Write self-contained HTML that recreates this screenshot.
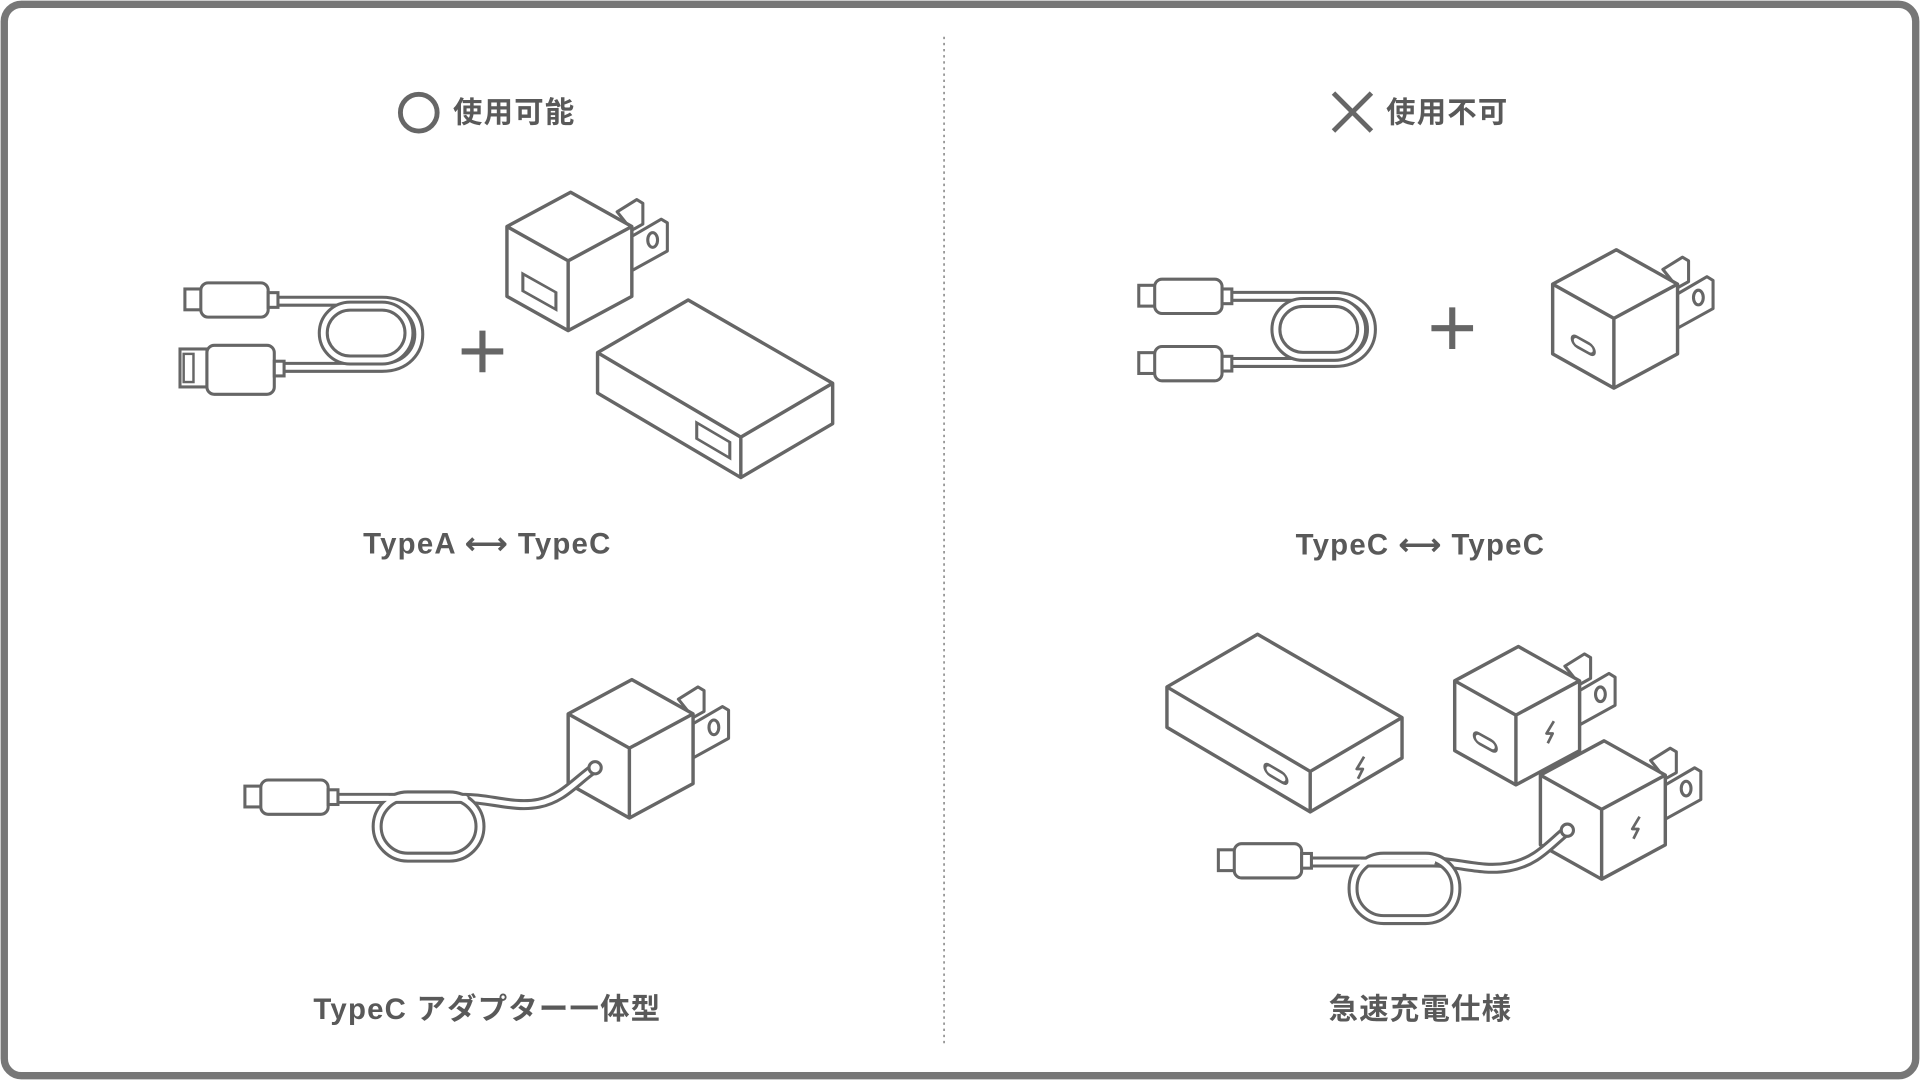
<!DOCTYPE html>
<html><head><meta charset="utf-8"><style>
html,body{margin:0;padding:0;background:#fff;}
svg{display:block;}
text{font-family:"Liberation Sans","Noto Sans CJK JP",sans-serif;font-weight:bold;fill:#595959;}
</style></head><body>
<svg width="1920" height="1080" viewBox="0 0 1568 882" xmlns="http://www.w3.org/2000/svg">
<defs>
<g id="cube">
  <path d="M40,-40 L56,-50 L61,-47 L61,-30 L52,-25 Z" fill="#fff" stroke="#666" stroke-width="2.5" stroke-linejoin="round"/>
  <path d="M52,-20 L76,-34 L81,-31 L81,-8 L52,8 Z" fill="#fff" stroke="#666" stroke-width="2.5" stroke-linejoin="round"/>
  <ellipse cx="69" cy="-17" rx="4" ry="6" fill="none" stroke="#666" stroke-width="2.5"/>
  <path d="M2,-56 L-50,-28 L-50,29 L0,57 L52,29 L52,-28 Z" fill="#fff" stroke="#666" stroke-width="2.8" stroke-linejoin="round"/>
  <path d="M-50,-28 L0,0 L52,-28 M0,0 L0,57" fill="none" stroke="#666" stroke-width="2.8" stroke-linejoin="round"/>
</g>
<g id="box">
  <path d="M-43,-112 L-117,-69 L-117,-36 L0,33 L75,-11 L75,-44 Z" fill="#fff" stroke="#666" stroke-width="2.8" stroke-linejoin="round"/>
  <path d="M-117,-69 L0,0 L75,-44 M0,0 L0,33" fill="none" stroke="#666" stroke-width="2.8" stroke-linejoin="round"/>
</g>
<g id="bolt"><path d="M3,-9 L-3,1 L2,1 L-2,9" fill="none" stroke="#666" stroke-width="2.2" stroke-linejoin="round"/></g>
<g id="cport"><rect x="-9" y="-4" width="18" height="8" rx="4" fill="none" stroke="#666" stroke-width="2.5"/></g>
<g id="conn">
  <rect x="0" y="5" width="14" height="17" fill="#fff" stroke="#666" stroke-width="2.5"/>
  <rect x="13" y="0" width="55" height="28" rx="6" fill="#fff" stroke="#666" stroke-width="2.5"/>
  <rect x="68" y="8" width="8" height="12" fill="#fff" stroke="#666" stroke-width="2.5"/>
</g>
</defs>

<rect x="3.5" y="3.5" width="1561" height="875" rx="14" fill="#fff" stroke="#777" stroke-width="6"/>
<line x1="771" y1="30" x2="771" y2="852" stroke="#999" stroke-width="1.5" stroke-dasharray="2,3"/>

<!-- headers -->
<circle cx="342" cy="92" r="15" fill="none" stroke="#666" stroke-width="4"/>
<text x="370" y="100" font-size="24" letter-spacing="1">使用可能</text>
<path d="M1089,76 L1120,107 M1120,76 L1089,107" stroke="#666" stroke-width="4"/>
<text x="1132" y="100" font-size="24" letter-spacing="1">使用不可</text>

<!-- labels -->
<text x="398" y="452" font-size="24" letter-spacing="1" text-anchor="middle">TypeA ⟷ TypeC</text>
<text x="1160" y="453" font-size="24" letter-spacing="1" text-anchor="middle">TypeC ⟷ TypeC</text>
<text x="398" y="832" font-size="24" letter-spacing="1" text-anchor="middle">TypeC アダプター一体型</text>
<text x="1160" y="832" font-size="24" letter-spacing="1" text-anchor="middle">急速充電仕様</text>

<!-- plus signs -->
<path d="M377,287 H411 M394,270 V304" stroke="#666" stroke-width="5"/>
<path d="M1169,268 H1203 M1186,251 V285" stroke="#666" stroke-width="5"/>

<!-- TL cable -->
<g fill="none" stroke-linecap="round" stroke-linejoin="round">
  <path d="M226,246 H312 C352,246 352,300 312,300 H230" stroke="#666" stroke-width="9"/>
  <path d="M226,246 H312 C352,246 352,300 312,300 H230" stroke="#fff" stroke-width="4"/>
  <rect x="264" y="250" width="70" height="44" rx="22" stroke="#666" stroke-width="9"/>
  <rect x="264" y="250" width="70" height="44" rx="22" stroke="#fff" stroke-width="4"/>
</g>
<use href="#conn" x="151" y="231"/>
<rect x="147" y="285" width="22" height="31" fill="#fff" stroke="#666" stroke-width="2.5"/>
<rect x="150" y="289" width="8" height="23" fill="none" stroke="#666" stroke-width="2"/>
<rect x="169" y="282" width="55" height="40" rx="6" fill="#fff" stroke="#666" stroke-width="2.5"/>
<rect x="224" y="295" width="8" height="12" fill="#fff" stroke="#666" stroke-width="2.5"/>

<!-- TL adapters -->
<use href="#cube" x="464" y="213"/>
<rect x="427" y="224" width="27" height="14" transform="skewY(29.3) translate(0,-240)" fill="none" stroke="#666" stroke-width="2.5"/>
<use href="#box" x="605" y="357"/>
<rect x="569" y="10" width="27" height="13" transform="skewY(30.5)" fill="none" stroke="#666" stroke-width="2.5"/>

<!-- TR cable -->
<g fill="none" stroke-linecap="round" stroke-linejoin="round">
  <path d="M1006,242 H1090 C1130,242 1130,296 1090,296 H1006" stroke="#666" stroke-width="9"/>
  <path d="M1006,242 H1090 C1130,242 1130,296 1090,296 H1006" stroke="#fff" stroke-width="4"/>
  <rect x="1042" y="247" width="70" height="44" rx="22" stroke="#666" stroke-width="9"/>
  <rect x="1042" y="247" width="70" height="44" rx="22" stroke="#fff" stroke-width="4"/>
</g>
<use href="#conn" x="930" y="228"/>
<use href="#conn" x="930" y="283"/>
<use href="#cube" x="1318" y="260"/>
<use href="#cport" transform="translate(1293,282) skewY(29)"/>

<!-- BL cube + cable -->
<use href="#cube" x="514" y="611"/>
<g fill="none" stroke-linecap="round" stroke-linejoin="round">
  <path d="M275,652 H380 C400,652 420,660 440,656 C460,652 470,638 486,627" stroke="#666" stroke-width="9"/>
  <path d="M275,652 H380 C400,652 420,660 440,656 C460,652 470,638 486,627" stroke="#fff" stroke-width="4"/>
  <rect x="308" y="650" width="84" height="50" rx="25" stroke="#666" stroke-width="9"/>
  <rect x="308" y="650" width="84" height="50" rx="25" stroke="#fff" stroke-width="4"/>
  <path d="M275,652 H380" stroke="#fff" stroke-width="4"/>
</g>
<use href="#conn" x="200" y="637"/>
<circle cx="486" cy="627" r="5" fill="#fff" stroke="#666" stroke-width="2.5"/>

<!-- BR -->
<use href="#box" x="1070" y="630"/>
<use href="#cport" transform="translate(1042,632) skewY(30.5)"/>
<use href="#bolt" x="1111" y="627"/>
<use href="#cube" x="1238" y="584"/>
<use href="#cport" transform="translate(1213,606) skewY(29)"/>
<use href="#bolt" x="1266" y="598"/>
<use href="#cube" x="1308" y="661"/>
<use href="#bolt" x="1336" y="676"/>
<g fill="none" stroke-linecap="round" stroke-linejoin="round">
  <path d="M1070,704 H1170 C1190,704 1210,712 1232,708 C1255,704 1265,690 1280,678" stroke="#666" stroke-width="9"/>
  <path d="M1070,704 H1170 C1190,704 1210,712 1232,708 C1255,704 1265,690 1280,678" stroke="#fff" stroke-width="4"/>
  <rect x="1105" y="700" width="84" height="51" rx="25" stroke="#666" stroke-width="9"/>
  <rect x="1105" y="700" width="84" height="51" rx="25" stroke="#fff" stroke-width="4"/>
  <path d="M1070,704 H1170" stroke="#fff" stroke-width="4"/>
</g>
<use href="#conn" x="995" y="689"/>
<circle cx="1280" cy="678" r="5" fill="#fff" stroke="#666" stroke-width="2.5"/>
</svg>
</body></html>
